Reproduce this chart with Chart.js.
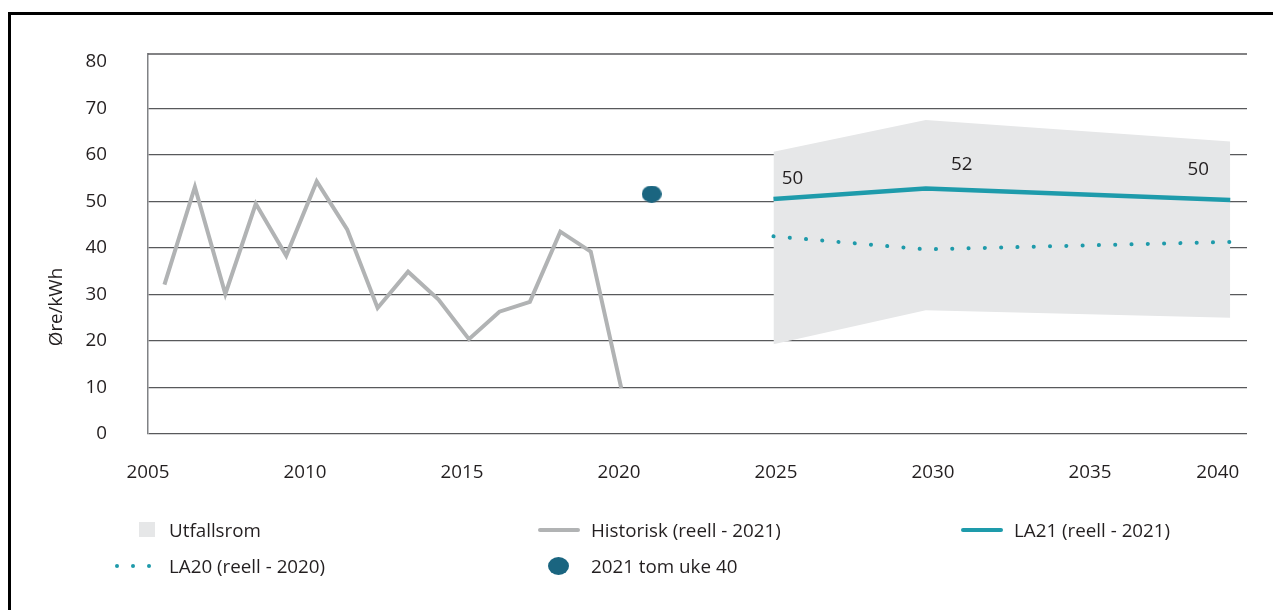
<!DOCTYPE html>
<html>
<head>
<meta charset="utf-8">
<script src="https://cdn.jsdelivr.net/npm/chart.js@4.4.0/dist/chart.umd.min.js"></script>
<style>
    body { margin: 0; background: #fff; font-family: "Open Sans", sans-serif; }
    #wrap { position: relative; width: 1273px; height: 610px; overflow: hidden; }
    #frame { position: absolute; left: 8px; top: 12px; right: -10px; bottom: -10px; border-top: 3px solid #000; border-left: 3px solid #000; }
    #chart { position: absolute; left: 0; top: 0; }
    #legend { position: absolute; left: 115px; top: 512px; display: grid; grid-template-columns: 422px 423px 300px; grid-auto-rows: 36px; }
    .item { display: flex; align-items: center; font-size: 18.8px; color: #231f20; white-space: nowrap; }
    .mk { width: 42px; height: 20px; margin-right: 12px; position: relative; flex: none; }
    .mk span { position: absolute; }
</style>
</head>
<body>
<div id="wrap">
    <canvas id="chart" width="1273" height="610"></canvas>
    <div id="frame"></div>
    <div id="legend"></div>
</div>
<script>
const histYears = [2005, 2006, 2007, 2008, 2009, 2010, 2011, 2012, 2013, 2014, 2015, 2016, 2017, 2018, 2019, 2020];
const histValues = [32.1, 53.1, 30.1, 49.5, 38.3, 54.3, 44.0, 27.1, 34.9, 28.9, 20.4, 26.3, 28.4, 43.5, 39.2, 9.9];
const forecastYears = [2025, 2030, 2040];
const la21Values = [50.5, 52.8, 50.3];
const la21Labels = ["50", "52", "50"];
const la20Values = [42.5, 39.7, 41.3];
const rangeHigh = [60.7, 67.5, 62.9];
const rangeLow = [19.3, 26.6, 25.0];
const ytdYears = [2021];
const ytdValues = [51.6];
const xTickLabels = ["2005", "2010", "2015", "2020", "2025", "2030", "2035", "2040"];
const yTickValues = [0, 10, 20, 30, 40, 50, 60, 70, 80];

const TEXT = "#231f20";
const GRID = "#58595b";
const FONT = { family: "'Open Sans', sans-serif", size: 18.8 };

function pts(xs, ys) {
    return xs.map((x, i) => ({ x: x, y: ys[i] }));
}

// ellipse marker for the 2021 point
function ellipseMarker(w, h, color) {
    const c = document.createElement("canvas");
    c.width = w;
    c.height = h;
    const g = c.getContext("2d");
    g.fillStyle = color;
    g.beginPath();
    g.ellipse(w / 2, h / 2, w / 2, h / 2, 0, 0, Math.PI * 2);
    g.fill();
    return c;
}

const extras = {
    id: "extras",
    afterDraw(chart, args, opts) {
        const { ctx, chartArea } = chart;
        ctx.save();
        // top border of the plot
        ctx.strokeStyle = GRID;
        ctx.lineWidth = 1.3;
        ctx.beginPath();
        ctx.moveTo(chartArea.left, chartArea.top);
        ctx.lineTo(chartArea.right, chartArea.top);
        ctx.stroke();

        // value labels on LA21
        ctx.fillStyle = TEXT;
        ctx.font = "18.8px 'Open Sans', sans-serif";
        ctx.textAlign = "center";
        ctx.textBaseline = "middle";
        const meta = chart.getDatasetMeta(opts.labelDataset);
        meta.data.forEach((p, i) => {
            const off = opts.labelOffsets[i];
            ctx.fillText(la21Labels[i], p.x + off[0], p.y + off[1]);
        });

        // y axis title
        ctx.translate(chartArea.left - 91, chartArea.bottom - 127);
        ctx.rotate(-Math.PI / 2);
        ctx.fillText("Øre/kWh", 0, 0);
        ctx.restore();
    },
};

const chart = new Chart(document.getElementById("chart").getContext("2d"), {
    type: "line",
    data: {
        datasets: [
            {
                label: "2021 tom uke 40",
                data: pts(ytdYears, ytdValues),
                showLine: false,
                pointStyle: ellipseMarker(20, 17, "#1a6580"),
                order: 0,
            },
            {
                label: "LA21 (reell - 2021)",
                data: pts(forecastYears, la21Values),
                borderColor: "#1e9bab",
                borderWidth: 4.5,
                pointRadius: 0,
                order: 1,
            },
            {
                label: "LA20 (reell - 2020)",
                data: pts(forecastYears, la20Values),
                borderColor: "#1e9aaa",
                borderWidth: 4,
                borderDash: [0.1, 16.2],
                borderCapStyle: "round",
                pointRadius: 0,
                order: 2,
            },
            {
                label: "Historisk (reell - 2021)",
                data: pts(histYears, histValues),
                borderColor: "#b1b3b4",
                borderWidth: 4,
                borderJoinStyle: "miter",
                pointRadius: 0,
                order: 3,
            },
            {
                label: "Utfallsrom",
                data: pts(forecastYears, rangeHigh),
                borderWidth: 0,
                backgroundColor: "#e6e7e8",
                fill: "+1",
                pointRadius: 0,
                order: 10,
            },
            {
                label: "Utfallsrom (lav)",
                data: pts(forecastYears, rangeLow),
                borderWidth: 0,
                pointRadius: 0,
                order: 11,
            },
        ],
    },
    options: {
        responsive: false,
        animation: false,
        layout: { padding: { left: 8, right: 26, top: 54, bottom: 116 } },
        scales: {
            x: { type: "linear", min: 2004.46, max: 2040.55, display: false },
            xl: {
                type: "category",
                labels: xTickLabels,
                offset: false,
                position: "bottom",
                grid: { display: false },
                border: { display: false },
                ticks: {
                    font: FONT,
                    color: TEXT,
                    padding: 19,
                    maxRotation: 0,
                    autoSkip: false,
                    // last label is pulled inside the plot like in the print version
                    callback: (v, i) => (i === xTickLabels.length - 1 ? xTickLabels[i] + "            " : xTickLabels[i]),
                },
                afterFit: (s) => {
                    s.height = 60;
                    s.paddingLeft = 0;
                    s.paddingRight = 0;
                },
            },
            y: {
                min: 0,
                max: 81.7,
                afterBuildTicks: (s) => { s.ticks = yTickValues.map((v) => ({ value: v })); },
                grid: {
                    drawTicks: false,
                    lineWidth: 1.3,
                    color: (c) => (c.tick && c.tick.value === 80 ? "rgba(0,0,0,0)" : GRID),
                },
                border: { color: "#808285", width: 1.5 },
                ticks: { font: FONT, color: TEXT, padding: 41 },
                afterFit: (s) => { s.width = 140; },
            },
        },
        plugins: {
            legend: { display: false },
            tooltip: { enabled: false },
            extras: { labelDataset: 1, labelOffsets: [[19, -20], [36, -24], [-32, -30]] },
        },
    },
    plugins: [extras],
});

function buildLegend() {
    const markers = {
        "Utfallsrom": '<span style="left:24px;top:2px;width:16px;height:15px;background:#e6e7e8"></span>',
        "Historisk (reell - 2021)": '<span style="left:1px;top:8px;width:42px;height:4px;border-radius:2px;background:#b1b3b4"></span>',
        "LA21 (reell - 2021)": '<span style="left:1px;top:8px;width:42px;height:4px;border-radius:2px;background:#1e9bab"></span>',
        "LA20 (reell - 2020)": [0, 16, 32].map((d) => `<span style="left:${d}px;top:8px;width:4px;height:4px;border-radius:2px;background:#1e9aaa"></span>`).join(""),
        "2021 tom uke 40": '<span style="left:11px;top:1px;width:21px;height:18px;border-radius:50%;background:#1a6580"></span>',
    };
    const order = ["Utfallsrom", "Historisk (reell - 2021)", "LA21 (reell - 2021)", "LA20 (reell - 2020)", "2021 tom uke 40"];
    document.getElementById("legend").innerHTML = order
        .map((label) => `<div class="item"><div class="mk">${markers[label]}</div>${label}</div>`)
        .join("");
}

buildLegend();
</script>
</body>
</html>
